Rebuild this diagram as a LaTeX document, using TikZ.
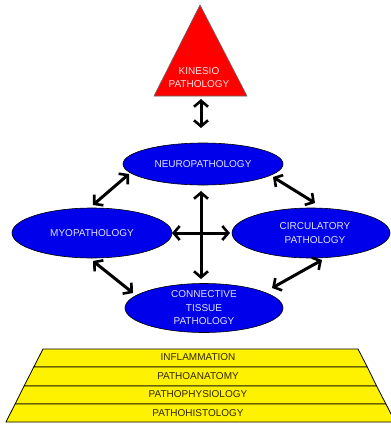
\documentclass[tikz,border=0pt]{standalone}
\usepackage{fontspec}
\setmainfont{Liberation Sans}
\usetikzlibrary{arrows.meta,shapes.geometric}
\definecolor{ellblue}{RGB}{0,0,235}
\definecolor{elltext}{RGB}{225,225,255}
\definecolor{tritext}{RGB}{255,225,225}
\definecolor{layertext}{RGB}{50,40,0}
\tikzset{
  ell/.style={ellipse, draw=black, line width=0.6pt, fill=ellblue, text=elltext, font=\fontsize{10}{13.5}\selectfont, align=center, inner sep=0pt},
  dbl/.style={line width=3pt, {Straight Barb[length=6pt,width=14pt,line width=2.6pt]}-{Straight Barb[length=6pt,width=14pt,line width=2.6pt]}},
  layer/.style={fill=yellow, draw=black, line width=0.8pt},
  ltext/.style={text=layertext, font=\fontsize{10}{11}\selectfont, inner sep=0pt}
}
\begin{document}
\begin{tikzpicture}[x=1pt,y=-1pt]
\useasboundingbox (0,0) rectangle (391,424);
\fill[white] (0,0) rectangle (391,424);
\begin{scope}
\clip (0,0) rectangle (391,424);
% triangle
\draw[fill=red, draw=black!60, line width=0.6pt] (200,5) -- (247,96) -- (154,96) -- cycle;
\node[text=tritext, font=\fontsize{10}{13}\selectfont, align=center, inner sep=0pt] (kin) at (199,77.5) {KINESIO\\PATHOLOGY};
% ellipses
\node[ell, minimum width=160pt, minimum height=42pt] (neuro) at (203,164) {NEUROPATHOLOGY};
\node[ell, minimum width=160pt, minimum height=50pt] (myo) at (92,233) {MYOPATHOLOGY};
\node[ell, minimum width=158pt, minimum height=50pt] (circ) at (311,233) {\hspace*{8pt}CIRCULATORY\\\hspace*{8pt}PATHOLOGY};
\node[ell, minimum width=158pt, minimum height=49pt] (conn) at (204,308) {CONNECTIVE\\TISSUE\hspace*{8pt}\\PATHOLOGY};
% arrows
\coordinate (ka) at (201,99); \coordinate (kb) at (201,128);
\draw[dbl] (ka) -- (kb);
\coordinate (nw1) at (129,174); \coordinate (nw2) at (93,205);
\draw[dbl] (nw1) -- (nw2);
\coordinate (ne1) at (273,177); \coordinate (ne2) at (315,203);
\draw[dbl] (ne1) -- (ne2);
\coordinate (sw1) at (93,261); \coordinate (sw2) at (133,293);
\draw[dbl] (sw1) -- (sw2);
\coordinate (se1) at (322,260); \coordinate (se2) at (272,288);
\draw[dbl] (se1) -- (se2);
\coordinate (cv1) at (201,191); \coordinate (cv2) at (201,279);
\draw[dbl] (cv1) -- (cv2);
\coordinate (ch1) at (172,233); \coordinate (ch2) at (230,233);
\draw[dbl] (ch1) -- (ch2);
% pyramid layers
\draw[layer] (43,349) -- (358,349) -- (367.3,367) -- (33.8,367) -- cycle;
\draw[layer] (33.8,367) -- (367.3,367) -- (376.6,386) -- (24.1,386) -- cycle;
\draw[layer] (24.1,386) -- (376.6,386) -- (385.9,404) -- (15.1,404) -- cycle;
\draw[layer] (15.1,404) -- (385.9,404) -- (395.2,422) -- (6,422) -- cycle;
\node[ltext] (l1) at (198,357) {INFLAMMATION};
\node[ltext] (l2) at (198,376) {PATHOANATOMY};
\node[ltext] (l3) at (198,394) {PATHOPHYSIOLOGY};
\node[ltext] (l4) at (198,413) {PATHOHISTOLOGY};
\end{scope}
\end{tikzpicture}
\end{document}
